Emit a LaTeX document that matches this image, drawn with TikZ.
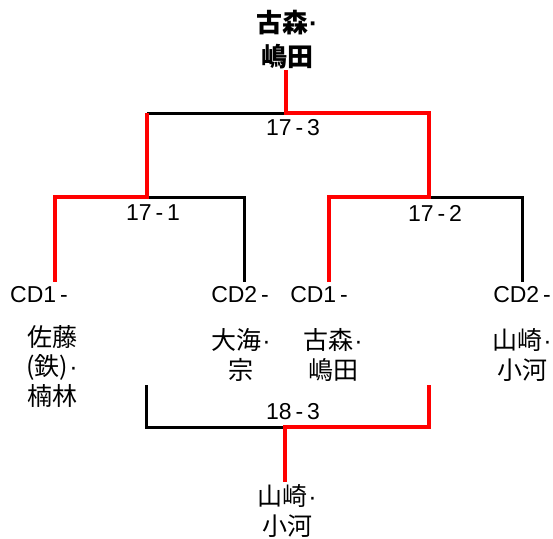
\documentclass[tikz,border=0pt]{standalone}
\usepackage{fontspec}
\setmainfont{Liberation Sans}
\newfontfamily\jpfont{Noto Sans CJK JP}
\newfontfamily\latfont{Liberation Sans}
\newcommand\pdot{{\latfont\kern1pt·}}

\begin{document}
\begin{tikzpicture}[x=1pt,y=-1pt,
	win/.style={line width=4.5pt,red,line join=miter},
	lose/.style={line width=3pt,black,line join=miter},
	score/.style={inner sep=0pt,font=\fontsize{23}{26}\selectfont},
	slot/.style={inner sep=0pt,font=\fontsize{23}{26}\selectfont},
	pair/.style={inner sep=0pt,align=center,font=\jpfont\fontsize{25}{29.5}\selectfont}]
	\useasboundingbox (0,0) rectangle (553,538);
	\def\lev{113}
	\def\levb{197}
	\def\leaf{282}

	% names
	\node[pair,font=\jpfont\bfseries\fontsize{26}{34}\selectfont] (champ) at (287,40) {古森\pdot\\嶋田};
	\node[slot] (cda) at (39,295) {CD1\,-};
	\node[slot] (cdb) at (240,295) {CD2\,-};
	\node[slot] (cdc) at (319,295) {CD1\,-};
	\node[slot] (cdd) at (522,295) {CD2\,-};
	\node[pair] (pa) at (52,366) {佐藤\\(鉄)\pdot\\楠林};
	\node[pair] (pb) at (241,355) {大海\pdot\\宗};
	\node[pair] (pc) at (333,355) {古森\pdot\\嶋田};
	\node[pair] (pd) at (522,355) {山崎\pdot\\小河};
	\node[pair] (third) at (287,511) {山崎\pdot\\小河};

	% scores
	\node[score] (m173) at (293,128) {17\,-\,3};
	\node[score] (m171) at (153,213) {17\,-\,1};
	\node[score] (m172) at (435,213) {17\,-\,2};
	\node[score] (m183) at (293,412) {18\,-\,3};

	% joints
	\coordinate (top) at (286,70);
	\coordinate (j3) at (286,\lev);
	\coordinate (j3a) at (147,\lev);
	\coordinate (j3b) at (429,\lev);
	\coordinate (j1a) at (55,\levb);
	\coordinate (j1b) at (244,\levb);
	\coordinate (j2a) at (329,\levb);
	\coordinate (j2b) at (522,\levb);
	\coordinate (la) at (55,\leaf);
	\coordinate (lb) at (244,\leaf);
	\coordinate (lc) at (329,\leaf);
	\coordinate (ld) at (522,\leaf);
	\coordinate (ba) at (146,385);
	\coordinate (bb) at (429,385);
	\coordinate (b3) at (285,427);
	\coordinate (bot) at (285,482);

	% brackets
	\draw[lose] (j3a) -- (j3);
	\draw[lose] (j3a |- j1b) -- (j1b) -- (lb);
	\draw[lose] (j3b |- j2b) -- (j2b) -- (ld);
	\draw[lose] (ba) |- (b3);

	\draw[win] (top) -- (j3) -- (j3b) -- (j3b |- j2a) -- (j2a) -- (lc);
	\draw[win] (j3a) -- (j3a |- j1a) -- (j1a) -- (la);
	\draw[win] (bb) |- (b3) -- (bot);
\end{tikzpicture}
\end{document}
